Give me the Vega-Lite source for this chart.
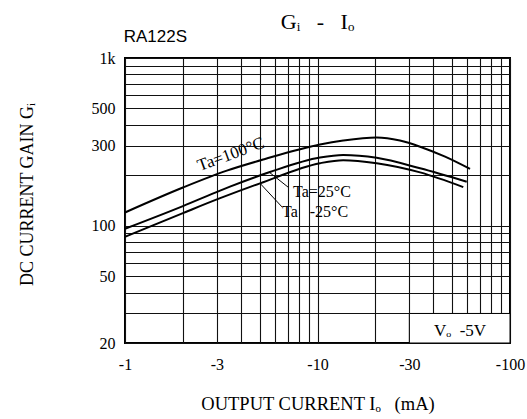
{
  "$schema": "https://vega.github.io/schema/vega-lite/v6.json",
  "width": 385,
  "height": 285,
  "autosize": {"type": "none"},
  "padding": {"left": 125, "top": 58, "right": 17, "bottom": 76},
  "background": "white",
  "title": {"text": "Gᵢ\u00a0\u00a0\u00a0-\u00a0\u00a0\u00a0Iₒ", "font": "Liberation Serif", "fontSize": 22, "fontWeight": "normal", "color": "black", "anchor": "middle", "baseline": "alphabetic", "offset": -23},
  "config": {"view": {"stroke": "black", "strokeWidth": 2}},
  "encoding": {
    "x": {"field": "I", "type": "quantitative", "scale": {"type": "log", "domain": [1, 100], "nice": false},
      "axis": {"values": [1,2,3,4,5,6,7,8,9,10,20,30,40,50,60,70,80,90,100],
        "labelExpr": "(datum.value == 1 || datum.value == 3 || datum.value == 10 || datum.value == 30 || datum.value == 100) ? '-' + datum.value : ''",
        "grid": true, "gridColor": "#111", "gridWidth": 1.1, "gridOpacity": 1,
        "ticks": false, "tickSize": 0, "domain": false, "labelFlush": false, "labelOverlap": false,
        "labelFont": "Liberation Serif", "labelFontSize": 16, "labelColor": "black", "labelPadding": 13,
        "title": "OUTPUT CURRENT Iₒ\u00a0\u00a0\u00a0(mA)", "titleFont": "Liberation Serif", "titleFontSize": 18.5, "titleFontWeight": "normal", "titleColor": "black",
        "titleY": 60, "titleBaseline": "middle"}},
    "y": {"field": "G", "type": "quantitative", "scale": {"type": "log", "domain": [20, 1000], "nice": false},
      "axis": {"values": [20,30,40,50,60,70,80,90,100,200,300,400,500,600,700,800,900,1000],
        "labelExpr": "datum.value == 1000 ? '1k' : ((datum.value == 20 || datum.value == 50 || datum.value == 100 || datum.value == 300 || datum.value == 500) ? '' + datum.value : '')",
        "grid": true, "gridColor": "#111", "gridWidth": 1.1, "gridOpacity": 1,
        "ticks": false, "tickSize": 0, "domain": false, "labelOverlap": false, "labelFlush": false,
        "labelFont": "Liberation Serif", "labelFontSize": 16, "labelColor": "black", "labelPadding": 10, "labelBaseline": "middle",
        "title": "DC CURRENT GAIN Gᵢ", "titleFont": "Liberation Serif", "titleFontSize": 18, "titleFontWeight": "normal", "titleColor": "black",
        "titleX": -98, "titleY": 136, "titleAngle": -90, "titleAlign": "center", "titleBaseline": "middle"}}
  },
  "layer": [
    {
      "data": {"values": [{"I": 30, "I2": 100, "G": 20, "G2": 30}]},
      "mark": {"type": "rect", "fill": "white", "stroke": "black", "strokeWidth": 1},
      "encoding": {"x2": {"field": "I2"}, "y2": {"field": "G2"}}
    },
    {
      "data": {"values": [
        {"Ta": "100", "I": 1, "G": 120}, {"Ta": "100", "I": 2, "G": 169}, {"Ta": "100", "I": 3.38, "G": 213}, {"Ta": "100", "I": 5.34, "G": 250},
        {"Ta": "100", "I": 10.3, "G": 305}, {"Ta": "100", "I": 13.6, "G": 322}, {"Ta": "100", "I": 20.3, "G": 336}, {"Ta": "100", "I": 26.8, "G": 322},
        {"Ta": "100", "I": 34.1, "G": 296}, {"Ta": "100", "I": 46, "G": 258}, {"Ta": "100", "I": 62, "G": 218},
        {"Ta": "25", "I": 1, "G": 96}, {"Ta": "25", "I": 2, "G": 131}, {"Ta": "25", "I": 3.12, "G": 162}, {"Ta": "25", "I": 3.51, "G": 171},
        {"Ta": "25", "I": 5.66, "G": 209}, {"Ta": "25", "I": 10.3, "G": 255}, {"Ta": "25", "I": 13.6, "G": 264}, {"Ta": "25", "I": 20.3, "G": 254},
        {"Ta": "25", "I": 34.1, "G": 220}, {"Ta": "25", "I": 59.6, "G": 183},
        {"Ta": "-25", "I": 1, "G": 86}, {"Ta": "-25", "I": 2, "G": 119}, {"Ta": "-25", "I": 3.12, "G": 146}, {"Ta": "-25", "I": 5.03, "G": 179},
        {"Ta": "-25", "I": 10.3, "G": 236}, {"Ta": "-25", "I": 13.6, "G": 246}, {"Ta": "-25", "I": 20.3, "G": 236}, {"Ta": "-25", "I": 34.1, "G": 208},
        {"Ta": "-25", "I": 57.2, "G": 170}
      ]},
      "mark": {"type": "line", "color": "black", "strokeWidth": 2, "interpolate": "monotone"},
      "encoding": {"detail": {"field": "Ta", "type": "nominal"}}
    },
    {
      "data": {"values": [
        {"I": 7.03, "G": 170, "I2": 5.6, "G2": 209},
        {"I": 6.54, "G": 129.5, "I2": 5.03, "G2": 179}
      ]},
      "mark": {"type": "rule", "color": "black", "strokeWidth": 1},
      "encoding": {"x2": {"field": "I2"}, "y2": {"field": "G2"}}
    },
    {
      "data": {"values": [{"I": 3.55, "G": 266, "label": "Ta=100°C"}]},
      "mark": {"type": "text", "font": "Liberation Serif", "fontSize": 17, "color": "black", "angle": -20, "align": "center", "baseline": "middle", "clip": false},
      "encoding": {"text": {"field": "label"}}
    },
    {
      "data": {"values": [
        {"I": 7.46, "G": 159, "label": "Ta=25°C"},
        {"I": 6.54, "G": 120.8, "label": "Ta\u00a0\u00a0\u00a0-25°C"}
      ]},
      "mark": {"type": "text", "font": "Liberation Serif", "fontSize": 16, "color": "black", "align": "left", "baseline": "middle", "clip": false},
      "encoding": {"text": {"field": "label"}}
    },
    {
      "data": {"values": [{"I": 55, "G": 23.7, "label": "Vₒ\u00a0\u00a0-5V"}]},
      "mark": {"type": "text", "font": "Liberation Serif", "fontSize": 17, "color": "black", "align": "center", "baseline": "middle", "clip": false},
      "encoding": {"text": {"field": "label"}}
    },
    {
      "data": {"values": [{"I": 0.985, "G": 1340, "label": "RA122S"}]},
      "mark": {"type": "text", "font": "Liberation Sans", "fontSize": 17, "color": "black", "align": "left", "baseline": "middle", "clip": false},
      "encoding": {"text": {"field": "label"}}
    }
  ]
}
